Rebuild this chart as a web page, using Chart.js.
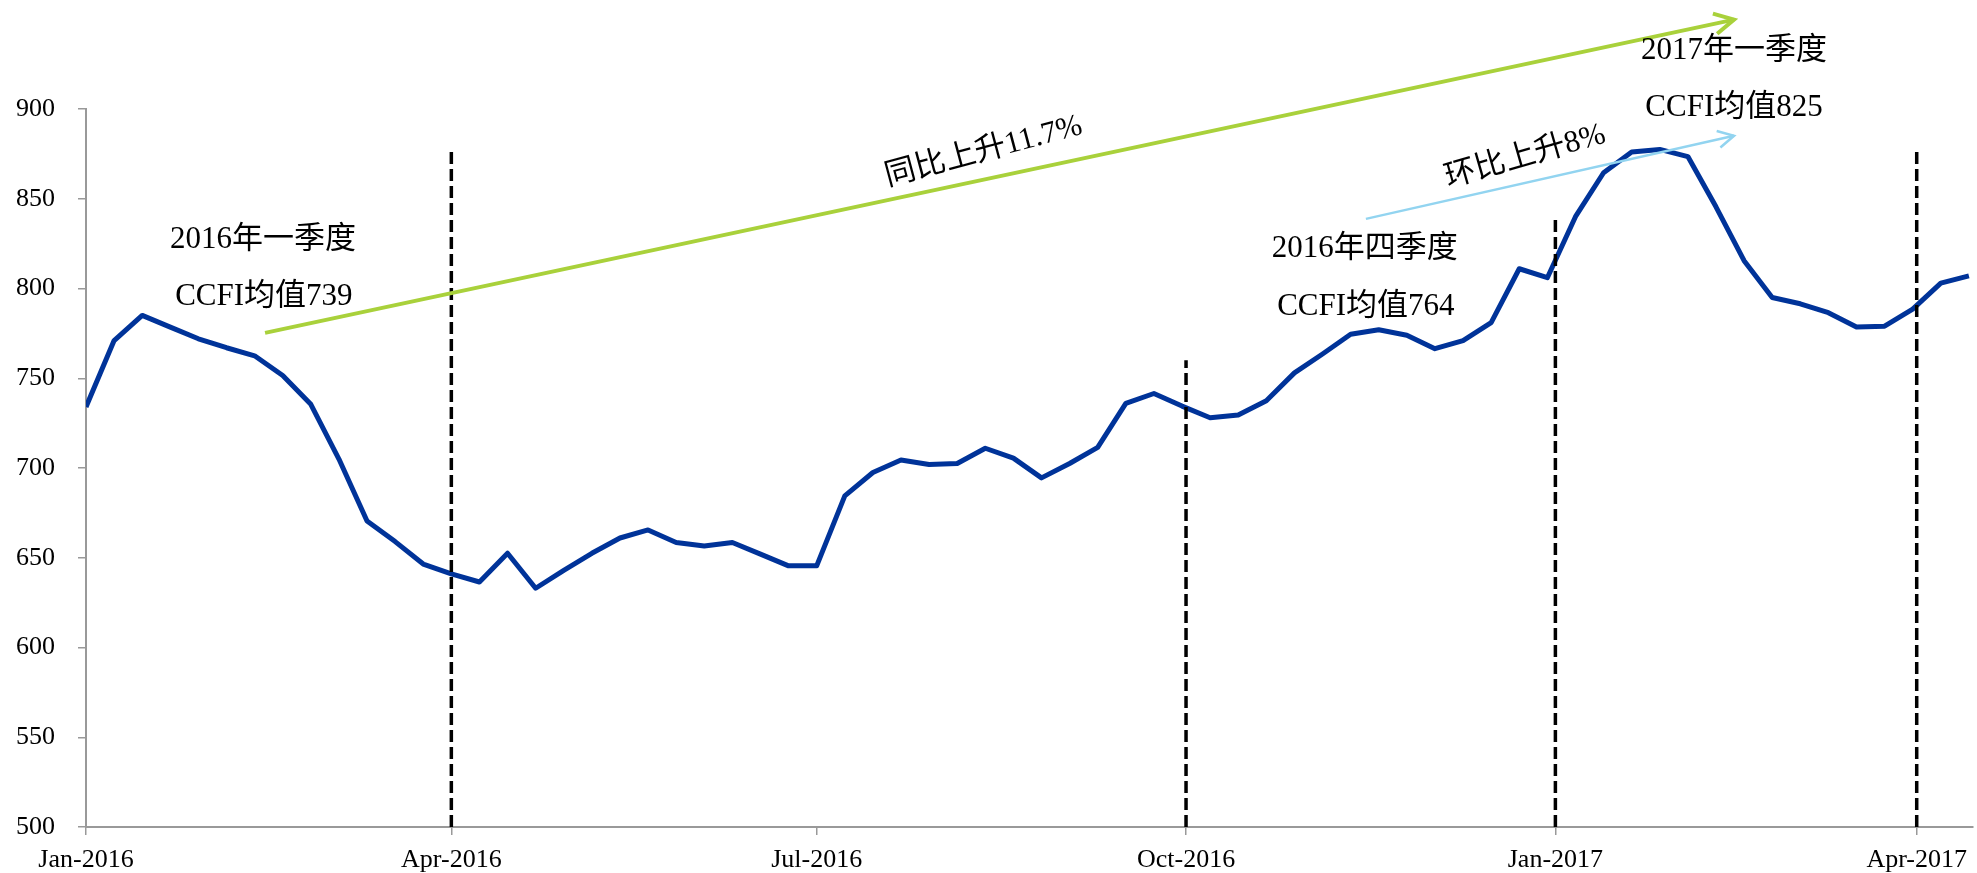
<!DOCTYPE html>
<html>
<head>
<meta charset="utf-8">
<script src="https://cdn.jsdelivr.net/npm/chart.js@4.4.0/dist/chart.umd.min.js"></script>
<style>
  html, body { margin: 0; padding: 0; background: #fff; }
  canvas { display: block; }
</style>
</head>
<body>
<canvas id="ccfiChart" width="1977" height="873"></canvas>
<script>
// weekly CCFI readings (Fridays)
var weekDates = [
  '2016-01-01', '2016-01-08', '2016-01-15', '2016-01-22', '2016-01-29',
  '2016-02-05', '2016-02-12', '2016-02-19', '2016-02-26',
  '2016-03-04', '2016-03-11', '2016-03-18', '2016-03-25',
  '2016-04-01', '2016-04-08', '2016-04-15', '2016-04-22', '2016-04-29',
  '2016-05-06', '2016-05-13', '2016-05-20', '2016-05-27',
  '2016-06-03', '2016-06-10', '2016-06-17', '2016-06-24',
  '2016-07-01', '2016-07-08', '2016-07-15', '2016-07-22', '2016-07-29',
  '2016-08-05', '2016-08-12', '2016-08-19', '2016-08-26',
  '2016-09-02', '2016-09-09', '2016-09-16', '2016-09-23', '2016-09-30',
  '2016-10-07', '2016-10-14', '2016-10-21', '2016-10-28',
  '2016-11-04', '2016-11-11', '2016-11-18', '2016-11-25',
  '2016-12-02', '2016-12-09', '2016-12-16', '2016-12-23', '2016-12-30',
  '2017-01-06', '2017-01-13', '2017-01-20', '2017-01-27',
  '2017-02-03', '2017-02-10', '2017-02-17', '2017-02-24',
  '2017-03-03', '2017-03-10', '2017-03-17', '2017-03-24', '2017-03-31',
  '2017-04-07', '2017-04-14'
];

var ccfiValues = [
  734, 771, 785, 778.5, 772,
  767, 762.5, 751.5, 735.5,
  705, 670.5, 659, 646.5,
  641, 636.5, 652.5, 633, 643,
  652.5, 661, 665.5, 658.5,
  656.5, 658.5, 652, 645.5,
  645.5, 684.5, 697.5, 704.5, 702,
  702.5, 711, 705.5, 694.5,
  702.5, 711.5, 736, 741.5, 734.5,
  728, 729.5, 737.5, 753,
  763.5, 774.5, 777, 774,
  766.5, 771, 781, 811, 806,
  840, 864.5, 876, 877.5,
  873.5, 845.5, 815.5, 795,
  791.5, 786.5, 778.5, 779, 788.5,
  803, 807
];

var tickDates = ['2016-01-01', '2016-04-01', '2016-07-01', '2016-10-01', '2017-01-01', '2017-04-01'];
var tickLabels = ['Jan-2016', 'Apr-2016', 'Jul-2016', 'Oct-2016', 'Jan-2017', 'Apr-2017'];

// quarter separators and how high they reach
var quarterDates = ['2016-04-01', '2016-10-01', '2017-01-01', '2017-04-01'];
var quarterTops = [877, 760, 840, 877];

function dayOffset(s) {
  var p = s.split('-');
  return (Date.UTC(+p[0], +p[1] - 1, +p[2]) - Date.UTC(2016, 0, 1)) / 86400000;
}

var points = weekDates.map(function (d, i) {
  return { x: dayOffset(d), y: ccfiValues[i] };
});
var tickDays = tickDates.map(dayOffset);

var datasets = [{
  label: 'CCFI',
  data: points,
  borderColor: '#003399',
  borderWidth: 5,
  pointRadius: 0,
  tension: 0,
  borderJoinStyle: 'round',
  order: 2
}];

quarterDates.forEach(function (d, i) {
  datasets.push({
    label: 'q' + i,
    data: [{ x: dayOffset(d), y: 500 }, { x: dayOffset(d), y: quarterTops[i] }],
    borderColor: '#000',
    borderWidth: 3.5,
    borderDash: [12, 5],
    pointRadius: 0,
    order: 1
  });
});

// annotation arrows + text, in data units (day offset, index value)
var arrows = [
  { from: [44.6, 775.3], to: [410.5, 949.8], color: '#A9D13B', width: 4, head: 22 },
  { from: [318.8, 838.8], to: [410.5, 885.1], color: '#92D4F0', width: 2.5, head: 18 }
];
var notes = [
  { text: '2016年一季度', x: 44.1, y: 827, rot: 0 },
  { text: 'CCFI均值739', x: 44.3, y: 795.3, rot: 0 },
  { text: '2016年四季度', x: 318.5, y: 822, rot: 0 },
  { text: 'CCFI均值764', x: 318.8, y: 789.8, rot: 0 },
  { text: '2017年一季度', x: 410.5, y: 932.5, rot: 0 },
  { text: 'CCFI均值825', x: 410.5, y: 900.7, rot: 0 },
  { text: '同比上升11.7%', x: 223.6, y: 876.2, rot: -15 },
  { text: '环比上升8%', x: 358.5, y: 873.4, rot: -16 }
];

var annotationPlugin = {
  id: 'ccfiNotes',
  afterDatasetsDraw: function (chart) {
    var ctx = chart.ctx;
    var xs = chart.scales.x, ys = chart.scales.y;
    ctx.save();

    arrows.forEach(function (a) {
      var x1 = xs.getPixelForValue(a.from[0]), y1 = ys.getPixelForValue(a.from[1]);
      var x2 = xs.getPixelForValue(a.to[0]), y2 = ys.getPixelForValue(a.to[1]);
      var ang = Math.atan2(y2 - y1, x2 - x1);
      var spread = 28 * Math.PI / 180;
      ctx.strokeStyle = a.color;
      ctx.lineWidth = a.width;
      ctx.lineCap = 'butt';
      ctx.beginPath();
      ctx.moveTo(x1, y1);
      ctx.lineTo(x2, y2);
      ctx.stroke();
      ctx.beginPath();
      ctx.moveTo(x2 - a.head * Math.cos(ang - spread), y2 - a.head * Math.sin(ang - spread));
      ctx.lineTo(x2, y2);
      ctx.lineTo(x2 - a.head * Math.cos(ang + spread), y2 - a.head * Math.sin(ang + spread));
      ctx.stroke();
    });

    ctx.fillStyle = '#000';
    ctx.font = '31px "Liberation Serif", "Noto Sans CJK SC", serif';
    ctx.textAlign = 'center';
    ctx.textBaseline = 'middle';
    notes.forEach(function (n) {
      ctx.save();
      ctx.translate(xs.getPixelForValue(n.x), ys.getPixelForValue(n.y));
      ctx.rotate(n.rot * Math.PI / 180);
      ctx.fillText(n.text, 0, 0);
      ctx.restore();
    });

    ctx.restore();
  }
};

var ctx = document.getElementById('ccfiChart');
var chart = new Chart(ctx, {
  type: 'line',
  data: { datasets: datasets },
  options: {
    responsive: false,
    animation: false,
    events: [],
    layout: { padding: { top: 109, right: 0, bottom: 0, left: 0 } },
    plugins: {
      legend: { display: false },
      title: { display: false },
      tooltip: { enabled: false }
    },
    scales: {
      x: {
        type: 'linear',
        min: 0,
        max: 470,
        afterBuildTicks: function (scale) {
          scale.ticks = tickDays.map(function (v) { return { value: v }; });
        },
        afterFit: function (scale) { scale.height = 46; },
        border: { color: '#999', width: 2 },
        grid: { drawOnChartArea: false, drawTicks: true, tickLength: 8, color: '#999', lineWidth: 1.5 },
        ticks: {
          autoSkip: false,
          maxRotation: 0,
          padding: 10,
          color: '#000',
          font: { family: '"Liberation Serif", serif', size: 26 },
          callback: function (value) {
            var i = tickDays.indexOf(value);
            return i >= 0 ? tickLabels[i] : '';
          }
        }
      },
      y: {
        min: 500,
        max: 900,
        afterFit: function (scale) { scale.width = 86; },
        border: { color: '#999', width: 2 },
        grid: { drawOnChartArea: false, drawTicks: true, tickLength: 8, color: '#999', lineWidth: 1.5 },
        ticks: {
          stepSize: 50,
          padding: 23,
          color: '#000',
          font: { family: '"Liberation Serif", serif', size: 26 }
        }
      }
    }
  },
  plugins: [annotationPlugin]
});
</script>
</body>
</html>
